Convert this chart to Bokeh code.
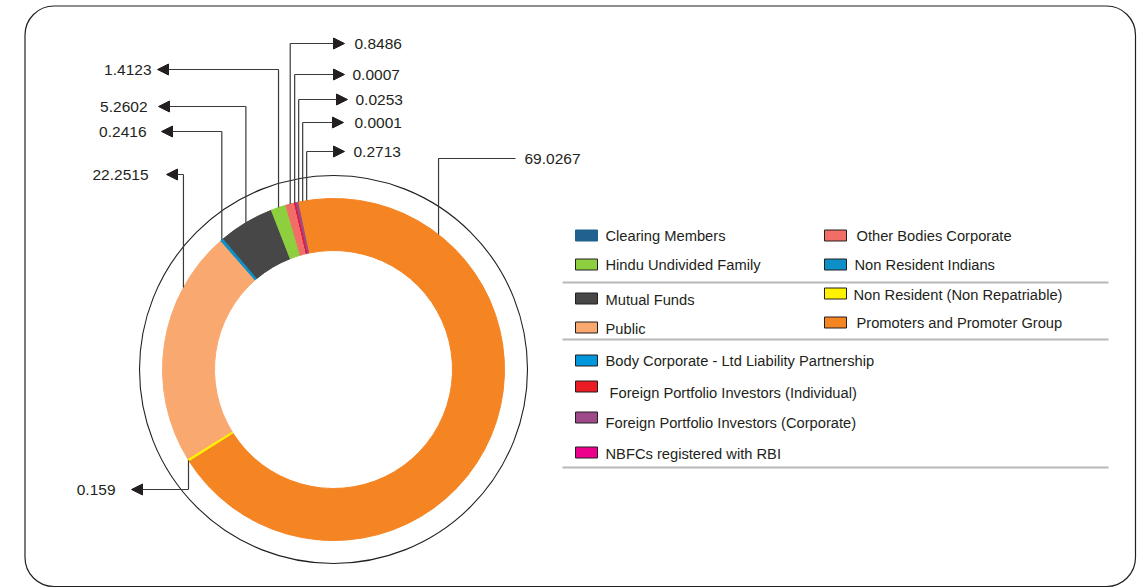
import math
from bokeh.plotting import figure
from bokeh.models import Range1d, ColumnDataSource, Arrow, NormalHead, BoxAnnotation
from bokeh.core.properties import value
from bokeh.embed import file_html
from bokeh.resources import INLINE

# ---------------- data ----------------
categories = ["Non Resident (Non Repatriable)", "Public", "Non Resident Indians", "Mutual Funds",
              "Hindu Undivided Family", "Other Bodies Corporate", "NBFCs registered with RBI",
              "Body Corporate - Ltd Liability Partnership", "Foreign Portfolio Investors (Individual)",
              "Foreign Portfolio Investors (Corporate)", "Promoters and Promoter Group"]
values = [0.159, 22.2515, 0.2416, 5.2602, 1.4123, 0.8486, 0.0007, 0.0253, 0.0001, 0.2713, 69.0267]
value_labels = ["0.159", "22.2515", "0.2416", "5.2602", "1.4123", "0.8486", "0.0007", "0.0253",
                "0.0001", "0.2713", "69.0267"]

legend_names = ["Clearing Members", "Other Bodies Corporate",
                "Hindu Undivided Family", "Non Resident Indians",
                "Mutual Funds", "Non Resident (Non Repatriable)",
                "Public", "Promoters and Promoter Group",
                "Body Corporate - Ltd Liability Partnership",
                "Foreign Portfolio Investors (Individual)",
                "Foreign Portfolio Investors (Corporate)",
                "NBFCs registered with RBI"]

# ---------------- styles ----------------
colors = {
    "Clearing Members": "#21618f",
    "Other Bodies Corporate": "#f26d65",
    "Hindu Undivided Family": "#8dcf3f",
    "Non Resident Indians": "#0d8fc8",
    "Mutual Funds": "#474747",
    "Non Resident (Non Repatriable)": "#fff200",
    "Public": "#f9a970",
    "Promoters and Promoter Group": "#f58423",
    "Body Corporate - Ltd Liability Partnership": "#0096db",
    "Foreign Portfolio Investors (Individual)": "#ec1c24",
    "Foreign Portfolio Investors (Corporate)": "#9e4a8a",
    "NBFCs registered with RBI": "#ec008c",
}
INK = "#231f20"
FONT = "Liberation Sans"

# ---------------- layout ----------------
W, H = 1142, 588
def Y(sy):  # screen y -> data y
    return 588 - sy

CX, CY = 333, Y(369)
R_OUT, R_IN, R_RING = 171, 119, 194
START_DEG = 237.7          # clockwise from 12 o'clock, where the first slice begins

# label layout: (label screen y, arrow tip x, text x, side, anchor fraction in slice)
label_layout = {
    "0.159":   (489, 131, 115, "left", 0.5),
    "22.2515": (174, 166, 148, "left", 0.75),
    "0.2416":  (131, 161, 146, "left", 0.5),
    "5.2602":  (106, 158, 147, "left", 0.5),
    "1.4123":  (69, 157, 151, "left", 0.5),
    "0.8486":  (43, 344, 354, "right", 0.5),
    "0.0007":  (74, 344, 352, "right", 0.5),
    "0.0253":  (99, 347, 355, "right", 0.5),
    "0.0001":  (122, 343, 354, "right", 0.5),
    "0.2713":  (151, 344, 353, "right", 0.5),
    "69.0267": (158, 515, 524, "right", 0.2),
}

# legend layout: (swatch cx, swatch screen y, text x, text screen y)
legend_layout = {
    "Clearing Members": (586, 235, 605, 235),
    "Other Bodies Corporate": (835, 235, 856, 235),
    "Hindu Undivided Family": (586, 264, 605, 264),
    "Non Resident Indians": (835, 264, 854, 264),
    "Mutual Funds": (586, 298, 605, 299),
    "Non Resident (Non Repatriable)": (835, 293, 853, 294),
    "Public": (586, 327, 605, 328),
    "Promoters and Promoter Group": (835, 322, 856, 322),
    "Body Corporate - Ltd Liability Partnership": (586, 360, 605, 360),
    "Foreign Portfolio Investors (Individual)": (586, 386, 609, 392),
    "Foreign Portfolio Investors (Corporate)": (586, 417, 605, 422),
    "NBFCs registered with RBI": (586, 452, 605, 453),
}
separators_y = [282, 339, 467]

p = figure(width=W, height=H, x_range=Range1d(0, W), y_range=Range1d(0, H),
           output_backend="svg", toolbar_location=None, min_border=0)
p.axis.visible = False
p.grid.visible = False
p.outline_line_color = None
p.background_fill_color = "white"
p.border_fill_color = "white"

# rounded frame
p.add_layout(BoxAnnotation(left=24.5, right=1135, top=Y(5.5), bottom=Y(586),
                           border_radius=29, fill_alpha=0, line_color=INK, line_alpha=1.0,
                           line_width=1.2))

# ---------------- donut ----------------
total = sum(values)
th_s, th_e = [], []
acc = START_DEG
for v in values:
    th_s.append(acc)
    acc += v / total * 360.0
    th_e.append(acc)

order = sorted(range(len(values)), key=lambda i: -values[i])
wsrc = ColumnDataSource(dict(
    start=[math.radians(90 - th_e[i]) for i in order],
    end=[math.radians(90 - th_s[i]) for i in order],
    color=[colors[categories[i]] for i in order],
))
p.annular_wedge(x=CX, y=CY, inner_radius=R_IN, outer_radius=R_OUT, start_angle="start",
                end_angle="end", fill_color="color", line_color="color", line_width=1.0,
                source=wsrc)

# thin outer ring
p.circle(x=[CX], y=[CY], radius=R_RING, fill_color=None, line_color=INK, line_width=1.1)

# ---------------- leaders & value labels ----------------
anchors = []
for i, lab in enumerate(value_labels):
    ly, tip, tx, side, frac = label_layout[lab]
    th = th_s[i] + frac * (th_e[i] - th_s[i])
    ax = CX + R_OUT * math.sin(math.radians(th))
    anchors.append([ax, th])

# spread the leaders of the tiny top-right slices so they do not overlap
right_small = [i for i, lab in enumerate(value_labels)
               if label_layout[lab][3] == "right" and lab != "69.0267"]
right_small.sort(key=lambda i: anchors[i][0])
for k in range(1, len(right_small)):
    a, b = right_small[k - 1], right_small[k]
    if anchors[b][0] < anchors[a][0] + 4:
        anchors[b][0] = anchors[a][0] + 4

vx, vy = [], []
ax_s, ay_s, ax_e, ay_e = [], [], [], []
lx, lyy, lt_l, lx_r, ly_r, lt_r = [], [], [], [], [], []
for i, lab in enumerate(value_labels):
    ly, tip, tx, side, frac = label_layout[lab]
    ax, th = anchors[i]
    dx = ax - CX
    dy = math.sqrt(max(R_OUT ** 2 - dx ** 2, 0))
    up = math.cos(math.radians(th)) > 0
    ay = CY + dy if up else CY - dy
    if lab == "69.0267":
        vx.append([ax, ax, tip]); vy.append([ay, Y(ly), Y(ly)])
    else:
        vx.append([ax, ax]); vy.append([ay, Y(ly)])
        ax_s.append(ax); ay_s.append(Y(ly)); ax_e.append(tip); ay_e.append(Y(ly))
    if side == "left":
        lx.append(tx); lyy.append(Y(ly)); lt_l.append(lab)
    else:
        lx_r.append(tx); ly_r.append(Y(ly)); lt_r.append(lab)

p.multi_line(xs=vx, ys=vy, line_color="#3a3a3a", line_width=1.2)
asrc = ColumnDataSource(dict(xs=ax_s, ys=ay_s, xe=ax_e, ye=ay_e))
p.add_layout(Arrow(end=NormalHead(size=11, fill_color=INK, line_color=INK, line_width=1),
                   x_start="xs", y_start="ys", x_end="xe", y_end="ye", source=asrc,
                   line_color="#3a3a3a", line_width=1.2))

p.text(x=lx, y=lyy, text=lt_l, text_align="right", text_baseline="middle",
       text_font=value(FONT), text_font_size="15.5px", text_color=INK)
p.text(x=lx_r, y=ly_r, text=lt_r, text_align="left", text_baseline="middle",
       text_font=value(FONT), text_font_size="15.5px", text_color=INK)

# ---------------- legend ----------------
sw_x, sw_y, sw_c, sw_l, t_x, t_y = [], [], [], [], [], []
for name in legend_names:
    sx, ssy, tx, tsy = legend_layout[name]
    sw_x.append(sx); sw_y.append(Y(ssy)); sw_c.append(colors[name])
    sw_l.append(colors[name] if name == "Clearing Members" else INK)
    t_x.append(tx); t_y.append(Y(tsy))
p.rect(x=sw_x, y=sw_y, width=22, height=11, fill_color=sw_c, line_color=sw_l, line_width=1)
p.text(x=t_x, y=t_y, text=legend_names, text_align="left", text_baseline="middle",
       text_font=value(FONT), text_font_size="14.7px", text_color=INK)
p.multi_line(xs=[[562, 1108]] * len(separators_y), ys=[[Y(s), Y(s)] for s in separators_y],
             line_color="#b8b8b8", line_width=2)

open("out.html", "w").write(file_html(p, INLINE))
